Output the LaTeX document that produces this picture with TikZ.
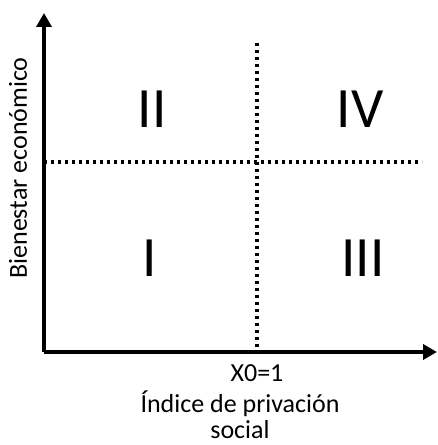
\documentclass[tikz,border=0pt]{standalone}
\usepackage{fontspec}
\setmainfont{Carlito}
\usetikzlibrary{positioning,arrows.meta}
\tikzset{font=\fontsize{26}{26}\selectfont}

\begin{document}
\begin{tikzpicture}[x=1pt,y=1pt]
	\useasboundingbox (0,0) rectangle (437,445);
	\begin{scope}
		\tikzstyle{every node}=[align=center, inner sep=0pt]
		\tikzstyle{axis}=[line width=4pt, -{Triangle[length=14pt,width=15pt]}]
		\tikzstyle{cut}=[line width=3.2pt, dash pattern=on 3.2pt off 3.8pt]
		\tikzstyle{zone}=[font=\fontsize{57}{57}\selectfont]

		\coordinate (o) at (44, 93);
		\coordinate (ytop) at (44, 432);
		\coordinate (xend) at (437, 93);
		\coordinate (vtop) at (257, 402);
		\coordinate (vbot) at (257, 93);
		\coordinate (hleft) at (44, 283);
		\coordinate (hright) at (422, 283);

		\node[zone] (q2) at (152, 336) {II};
		\node[zone] (q4) at (360, 336) {IV};
		\node[zone] (q1) at (150, 187) {I};
		\node[zone] (q3) at (363, 187) {III};

		\node[anchor=base] (x0) at (257, 63) {X0=1};
		\node[anchor=south] (xlab) at (240, 6) {Índice de privación\\social};
		\node[anchor=base, rotate=90] (ylab) at (27, 277) {Bienestar económico};

		\draw[cut ](vtop) -- (vbot);
		\draw[cut ](hleft) -- (hright);
		\draw[axis](o) -- (ytop);
		\draw[axis](o) -- (xend);
	\end{scope}
\end{tikzpicture}
\end{document}
